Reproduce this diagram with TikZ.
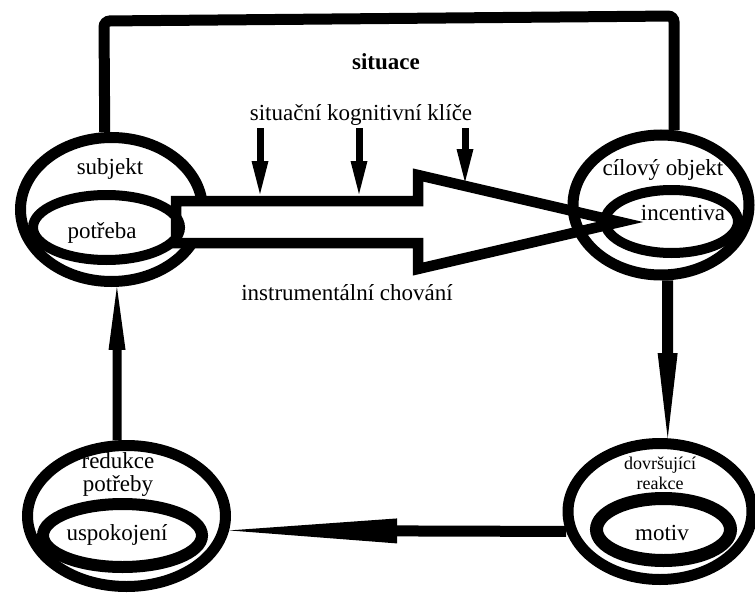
\documentclass[tikz,border=0pt]{standalone}
\usepackage{fontspec}
\setmainfont{Liberation Serif}
\newfontfamily\tnr{Liberation Serif}
\usetikzlibrary{shapes.geometric,arrows.meta}
\begin{document}
\begin{tikzpicture}[x=1pt,y=-1pt,
  ring/.style={draw,ellipse,inner sep=0pt},
  lbl/.style={font=\tnr\fontsize{23}{23}\selectfont, inner sep=0pt, align=center},
  smalllbl/.style={font=\tnr\fontsize{18}{20}\selectfont, inner sep=0pt, align=center},
  cue/.style={line width=7pt, -{Triangle[length=33pt,width=17pt,line width=0pt]}},
]
\useasboundingbox (0,0) rectangle (755,594);
% outer rings
\node[ring, line width=11pt, minimum width=182pt, minimum height=144pt] (subj) at (111.5,209.5) {};
\node[ring, line width=11pt, minimum width=198pt, minimum height=141pt] (redu) at (126.5,516) {};
\node[ring, line width=11pt, minimum width=184pt, minimum height=136pt] (dovr) at (660,511.5) {};
% big hollow arrow
\draw[line width=10.5pt, fill=white, line join=miter]
  (176,201) -- (418,201) -- (418,175) -- (620,222) -- (418,269) -- (418,243) -- (176,243) -- cycle;
\node[ring, line width=11pt, minimum width=176pt, minimum height=140pt] (cobj) at (661,205) {};
% inner rings
\node[ring, line width=10pt, minimum width=147pt, minimum height=65pt] (potr) at (106.5,227.5) {};
\node[ring, line width=10pt, minimum width=133pt, minimum height=63pt] (ince) at (671.5,221.5) {};
\node[ring, line width=12pt, minimum width=159pt, minimum height=63pt] (uspo) at (122.5,535.5) {};
\node[ring, line width=13pt, minimum width=134pt, minimum height=62pt] (moti) at (663.5,529.5) {};
% frame
\coordinate (tl) at (104,21);
\coordinate (tr) at (674,16);
\draw[line width=11pt, rounded corners=6pt] (subj.95.5) -- (tl) -- (tr) -- (cobj.80);
% cue arrows
\coordinate (k1s) at (260,128); \coordinate (k1e) at (260,194);
\coordinate (k2s) at (359,128); \coordinate (k2e) at (359,194);
\coordinate (k3s) at (465,128); \coordinate (k3e) at (465,182);
\draw[cue] (k1s) -- (k1e);
\draw[cue] (k2s) -- (k2e);
\draw[cue] (k3s) -- (k3e);
% cycle arrows
\draw[line width=11pt, -{Triangle[length=85pt,width=20pt,line width=0pt]}] (cobj.-85.5) -- (dovr.84.6);
\draw[line width=11pt, -{Triangle[length=168pt,width=25pt,line width=0pt]}] (dovr.192) -- (redu.-8);
\draw[line width=9pt, -{Triangle[length=63pt,width=17pt,line width=0pt]}] (redu.97) -- (subj.-86);
% texts
\node[lbl, font=\tnr\fontsize{23}{23}\selectfont\bfseries] (sit) at (386,62) {situace};
\node[lbl] (klice) at (361,115) {situační kognitivní klíče};
\node[lbl] (instr) at (347,293) {instrumentální chování};
\node[lbl] (tsubj) at (110,169) {subjekt};
\node[lbl] (tpotr) at (102,233) {potřeba};
\node[lbl] (tcobj) at (663,170) {cílový objekt};
\node[lbl] (tince) at (683,213) {incentiva};
\node[lbl] (tredu) at (118,474) {redukce\\potřeby};
\node[lbl] (tuspo) at (117,535) {uspokojení};
\node[smalllbl] (tdovr) at (660,473) {dovršující\\reakce};
\node[lbl] (tmoti) at (662,533) {motiv};
\end{tikzpicture}
\end{document}
